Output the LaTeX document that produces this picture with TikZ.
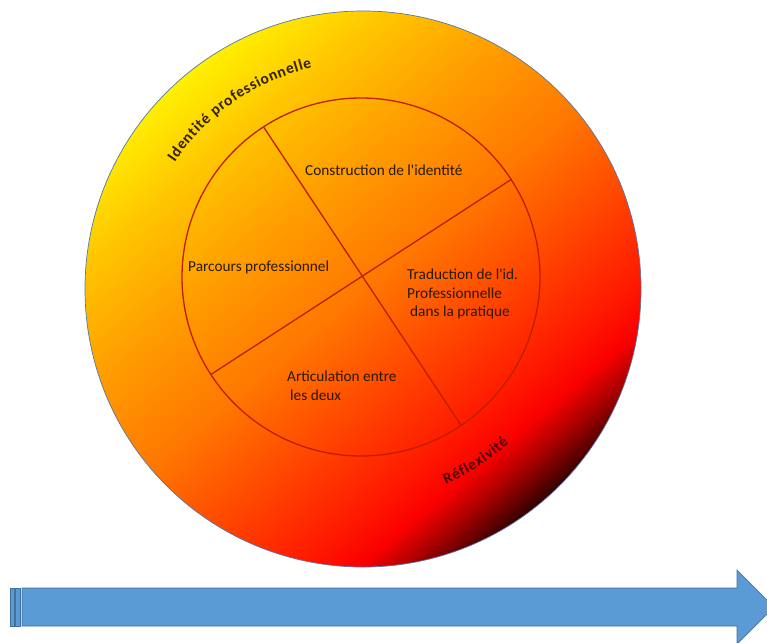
\documentclass[tikz,border=0pt]{standalone}
\usepackage{fontspec}
\setmainfont{Carlito}
\usetikzlibrary{decorations.text}
\definecolor{ringline}{RGB}{192,30,0}
\definecolor{txt}{RGB}{40,25,0}
\definecolor{arctxt}{RGB}{50,35,0}
\definecolor{refltxt}{RGB}{80,5,5}
\definecolor{arrowfill}{RGB}{91,155,213}
\definecolor{arrowedge}{RGB}{65,113,156}
\definecolor{rim}{RGB}{85,120,165}
\pgfdeclareverticalshading{sunset}{100bp}{%
 rgb(0bp)=(0.2,0,0); rgb(25bp)=(0.2,0,0); rgb(28.4bp)=(0.67,0,0);
 rgb(31.1bp)=(0.98,0,0); rgb(34.7bp)=(1,0.1,0); rgb(41bp)=(1,0.255,0);
 rgb(50bp)=(1,0.47,0); rgb(60bp)=(1,0.63,0); rgb(68bp)=(1,0.78,0);
 rgb(75bp)=(1,0.94,0); rgb(100bp)=(1,0.94,0)}
\tikzset{
  ball/.style={circle, inner sep=0pt, outer sep=0pt, shade, shading=sunset,
    shading angle=40, draw=rim, line width=0.7pt},
  ring/.style={circle, inner sep=0pt, outer sep=0pt, draw=ringline, line width=1.3pt},
  divider/.style={draw=ringline, line width=1.3pt},
  label/.style={anchor=base west, inner sep=0pt, text=txt,
    font=\fontsize{15.3}{18.5}\selectfont},
  arrowpart/.style={fill=arrowfill, draw=arrowedge, line width=0.7pt},
}
\begin{document}
\begin{tikzpicture}[x=1pt,y=1pt]
\useasboundingbox (0,0) rectangle (767,-642);
% outer sphere
\node[ball, minimum size=556pt] (outer) at (363,-289) {};
% curved labels
\path[decorate, decoration={text along path, text align=fit to path,
  text={|\bfseries\fontsize{15.5}{15.5}\selectfont\color{arctxt}|Identité professionnelle}}]
  ([shift={(146:227)}]outer.center) arc[start angle=146, end angle=103, radius=227];
\path[decorate, decoration={text along path, text align=fit to path,
  text={|\bfseries\fontsize{15.5}{15.5}\selectfont\color{refltxt}|Réflexivité}}]
  ([shift={(-67:212)}]outer.center) arc[start angle=-67, end angle=-46.5, radius=212];
% inner circle and dividers
\node[ring, minimum size=358pt] (inner) at (361,-277) {};
\draw[divider] (inner.123.7) -- (inner.-56.3);
\draw[divider] (inner.33.7) -- (inner.213.7);
% texts
\node[label] (t1) at (305,-175) {Construction de l\textquotesingle identité};
\node[label] (t2) at (188,-271) {Parcours professionnel};
\node[label] (t3) at (407,-279.5) {\begin{tabular}[t]{@{}l@{}}Traduction de l\textquotesingle id.\\Professionnelle\\\hspace{3pt}dans la pratique\end{tabular}};
\node[label] (t4) at (287,-381.5) {\begin{tabular}[t]{@{}l@{}}Articulation entre\\\hspace{3pt}les deux\end{tabular}};
% timeline arrow
\begin{scope}
\clip (0,0) rectangle (767,-642);
\draw[arrowpart] (10.7,-588) rectangle (14.3,-626);
\draw[arrowpart] (15.7,-588) rectangle (20,-626);
\draw[arrowpart] (22,-588) -- (737,-588) -- (737,-570) -- (774,-607)
  -- (737,-644) -- (737,-626) -- (22,-626) -- cycle;
\end{scope}
\end{tikzpicture}
\end{document}
